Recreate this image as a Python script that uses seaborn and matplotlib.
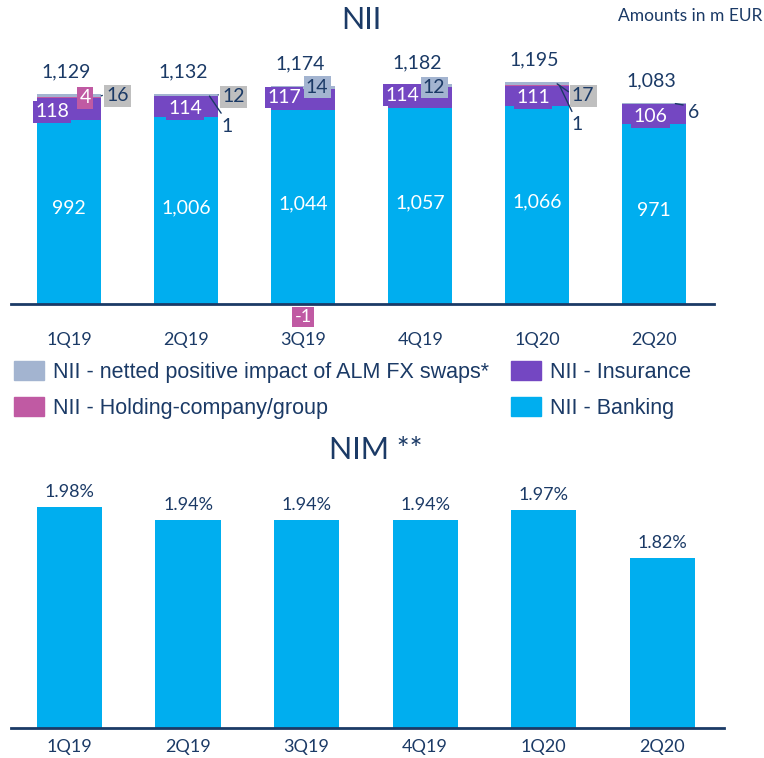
import numpy as np
import matplotlib
matplotlib.use("Agg")
import matplotlib.pyplot as plt
from matplotlib.patches import Patch
import seaborn as sns

quarters = ["1Q19", "2Q19", "3Q19", "4Q19", "1Q20", "2Q20"]
nii_banking = [992, 1006, 1044, 1057, 1066, 971]
nii_insurance = [118, 114, 117, 114, 111, 106]
nii_holding = [4, 1, -1, 0, 1, 0]
nii_alm_fx = [16, 12, 14, 12, 17, 6]
nii_total = [1129, 1132, 1174, 1182, 1195, 1083]
nim = [1.98, 1.94, 1.94, 1.94, 1.97, 1.82]

NAVY = "#1B3A66"
BANK = "#00AEEF"
INS = "#7447C2"
HOLD = "#C05AA3"
ALM = "#A3B4D0"
GREY = "#BFBFBF"

sns.set_style("white")
plt.rcParams["font.family"] = ["Lato", "DejaVu Sans"]

fig = plt.figure(figsize=(7.64, 7.58), dpi=100)

# ---- NII stacked bars ----
ax = fig.add_axes([11 / 764, 1 - 304 / 758, 703 / 764, 244 / 758])

b = np.array(nii_banking, dtype=float)
ins_top = b + np.array(nii_insurance)
hold = np.array(nii_holding, dtype=float)
hold_top = ins_top + np.maximum(hold, 0)
alm_top = hold_top + np.array(nii_alm_fx)

bw = 0.55
for vals, col in [(alm_top, ALM), (hold_top, HOLD), (ins_top, INS), (b, BANK),
                  (np.minimum(hold, 0), HOLD)]:
    sns.barplot(x=quarters, y=vals, color=col, saturation=1, width=bw,
                errorbar=None, linewidth=0, edgecolor="none", ax=ax)

ax.set_xlim(-0.496, 5.51)
ax.set_ylim(0, 1315)
ax.set_yticks([])
ax.set_xlabel("")
ax.set_ylabel("")
for s in ["top", "left", "right"]:
    ax.spines[s].set_visible(False)
ax.spines["bottom"].set_color(NAVY)
ax.spines["bottom"].set_linewidth(2)
ax.tick_params(axis="x", length=0, pad=20, labelsize=13, labelcolor=NAVY)


def tag(ax, text, xy, off, box=None, color=NAVY, leader=False, size=14,
        relpos=(0.5, 0.5)):
    kw = {}
    if box is not None:
        kw["bbox"] = dict(boxstyle="square,pad=0.12", fc=box, ec="none")
    if leader:
        kw["arrowprops"] = dict(arrowstyle="-", color=NAVY, lw=1,
                                shrinkA=1, shrinkB=0, relpos=relpos)
    ax.annotate(text, xy=xy, xytext=off, textcoords="offset pixels",
                ha="center", va="center", fontsize=size, color=color,
                zorder=5, **kw)


# banking labels
for i, v in enumerate(nii_banking):
    tag(ax, f"{v:,}", (i, v / 2), (0, 3), color="white")

# insurance labels
ins_off = [(-17, -3), (-1, -2), (-19, 2), (-18, 2), (-4, -2), (-4, -3)]
for i, v in enumerate(nii_insurance):
    tag(ax, f"{v}", (i, b[i] + v / 2), ins_off[i], box=INS, color="white")

# holding labels: index -> (anchor dx, offset, box, text colour, leader, size)
hold_tags = {
    0: (0, (16, 0), HOLD, "white", False, 14),
    1: (0.2, (18, -30), None, NAVY, True, 14),
    2: (0, (0, -13), HOLD, "white", False, 13),
    4: (0.19, (18, -39), None, NAVY, True, 14),
}
for i, (dx, off, box, tc, lead, sz) in hold_tags.items():
    v = nii_holding[i]
    y = ins_top[i] + v / 2 if v >= 0 else 0
    tag(ax, f"{v}", (i + dx, y), off, box=box, color=tc, leader=lead,
        relpos=(0.2, 1), size=sz)

# ALM FX swap labels
alm_tags = {
    0: (0.275, (16, 0), GREY, True, (0, 0.6)),
    1: (0.275, (15, -2), GREY, True, (0, 0.6)),
    2: (0, (14, 0), ALM, False, (0.5, 0.5)),
    3: (0, (14, -2), ALM, False, (0.5, 0.5)),
    4: (0.17, (26, -12), GREY, True, (0, 0.6)),
    5: (0.18, (18, -9), None, True, (0, 0.9)),
}
for i, (dx, off, box, lead, rp) in alm_tags.items():
    v = nii_alm_fx[i]
    tag(ax, f"{v}", (i + dx, hold_top[i] + v / 2), off, box=box, leader=lead,
        relpos=rp)

# totals
for i, v in enumerate(nii_total):
    tag(ax, f"{v:,}", (i, alm_top[i]), (-3, 22))

# ---- legend ----
handles = [Patch(color=ALM, label="NII - netted positive impact of ALM FX swaps*"),
           Patch(color=HOLD, label="NII - Holding-company/group"),
           Patch(color=INS, label="NII - Insurance"),
           Patch(color=BANK, label="NII - Banking")]
fig.legend(handles=handles, ncol=2, loc="upper left",
           bbox_to_anchor=(14 / 764, 1 - 361 / 758), frameon=False,
           borderpad=0, borderaxespad=0, handlelength=1.4, handleheight=0.98,
           handletextpad=0.42, columnspacing=1.0, labelspacing=0.67,
           prop=dict(family=["Liberation Sans", "DejaVu Sans"], size=15.5),
           labelcolor=NAVY)

# ---- NIM bars ----
ax2 = fig.add_axes([11 / 764, 1 - 728 / 758, 713 / 764, 248 / 758])
sns.barplot(x=quarters, y=nim, color=BANK, saturation=1, width=0.55,
            errorbar=None, linewidth=0, edgecolor="none", ax=ax2)
ax2.set_xlim(-0.493, 5.52)
ax2.set_ylim(1.287, 1.287 + 248 / 319)
ax2.set_yticks([])
ax2.set_xlabel("")
ax2.set_ylabel("")
for s in ["top", "left", "right"]:
    ax2.spines[s].set_visible(False)
ax2.spines["bottom"].set_color(NAVY)
ax2.spines["bottom"].set_linewidth(2)
ax2.tick_params(axis="x", length=0, pad=8, labelsize=13, labelcolor=NAVY)
for i, v in enumerate(nim):
    tag(ax2, f"{v:.2f}%", (i, v), (0, 15), size=13)

fig.text(361 / 764, 1 - 20 / 758, "NII", ha="center", va="center",
         fontsize=22, color=NAVY)
fig.text(376 / 764, 1 - 450 / 758, "NIM **", ha="center", va="center",
         fontsize=22, color=NAVY)
fig.text(762 / 764, 1 - 16 / 758, "Amounts in m EUR", ha="right",
         va="center", fontsize=12.5, color=NAVY)

fig.savefig("out.png", dpi=100)
